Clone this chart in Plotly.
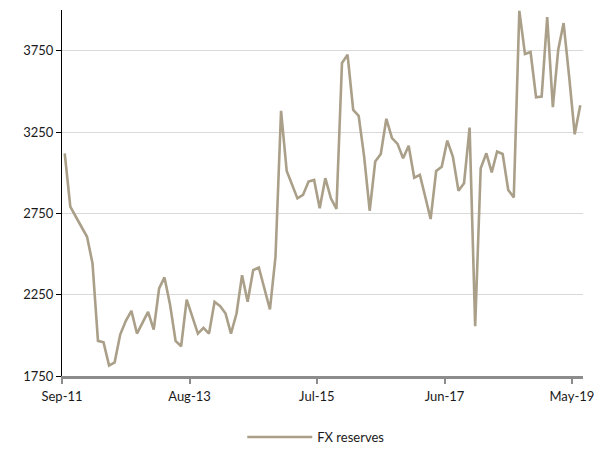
import pandas as pd
import plotly.graph_objects as go

# Monthly FX reserves, Sep-2011 .. Jun-2019
start_month = "2011-09-01"
fx_reserves = [
    3119, 2791, 2729, 2668, 2606, 2442, 1966, 1957, 1814, 1834, 2005, 2089, 2150, 2011,
    2076, 2144, 2035, 2288, 2356, 2190, 1966, 1933, 2220, 2113, 2011, 2046, 2011,
    2206, 2179, 2134, 2011, 2134, 2370, 2206, 2401, 2417, 2288, 2159, 2483, 3380,
    3010, 2924, 2842, 2863, 2945, 2955, 2781, 2966, 2842, 2777, 3674, 3725, 3386, 3349,
    3100, 2766, 3068, 3115, 3331, 3212, 3177, 3089, 3165, 2969, 2986, 2852, 2715, 3010,
    3037, 3197, 3099, 2889, 2935, 3277, 2056, 3027, 3119, 3002, 3130, 3115, 2894,
    2848, 3995, 3729, 3741, 3464, 3468, 3957, 3403, 3756, 3920, 3590, 3236, 3415,
]
tick_months = ["2011-09-01", "2013-08-01", "2015-07-01", "2017-06-01", "2019-05-01"]
y_ticks = [1750, 2250, 2750, 3250, 3750]

# each month is plotted in the middle of its interval
month_starts = pd.date_range(start_month, periods=len(fx_reserves) + 1, freq="MS")
mid_month = month_starts[:-1] + (month_starts[1:] - month_starts[:-1]) / 2

line_color = "#aa9f88"
font = dict(family="Lato, Carlito, sans-serif", size=13, color="#1a1a1a")

fig = go.Figure(
    go.Scatter(
        x=mid_month,
        y=fx_reserves,
        mode="lines",
        name="FX reserves",
        line=dict(color=line_color, width=2.6),
    )
)

fig.update_layout(
    width=610,
    height=472,
    margin=dict(l=62, r=27, t=10, b=96),
    paper_bgcolor="white",
    plot_bgcolor="white",
    font=font,
    showlegend=True,
    legend=dict(
        orientation="h",
        x=0.488,
        xanchor="center",
        y=-0.167,
        yanchor="middle",
        itemwidth=65,
        font=font,
    ),
)

fig.update_xaxes(
    type="date",
    range=[month_starts[0], month_starts[-1]],
    tickvals=tick_months,
    tickformat="%b-%y",
    ticks="outside",
    ticklen=5,
    tickwidth=2,
    tickcolor="#8c8c8c",
    ticklabelstandoff=2,
    showline=True,
    linecolor="#8c8c8c",
    linewidth=2.5,
    showgrid=False,
    zeroline=False,
)

fig.update_yaxes(
    range=[1750, 4000],
    tickvals=y_ticks,
    ticks="outside",
    ticklen=5,
    tickcolor="black",
    tickwidth=1,
    showline=True,
    linecolor="black",
    linewidth=1,
    showgrid=True,
    gridcolor="#d9d9d9",
    gridwidth=1,
    zeroline=False,
)

fig.write_html("out.html")
